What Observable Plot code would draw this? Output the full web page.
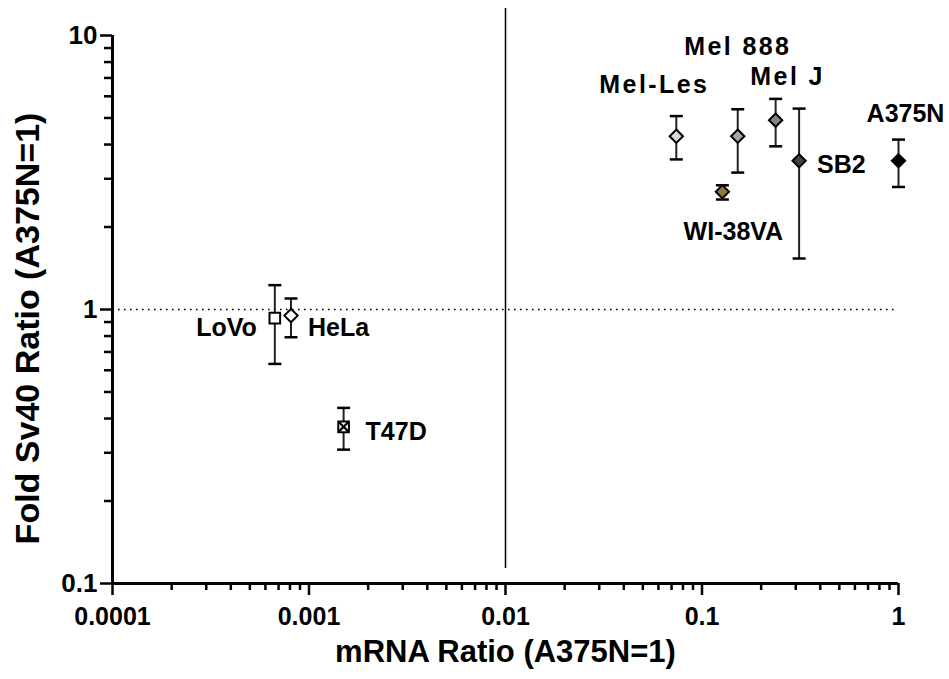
<!DOCTYPE html>
<html><head><meta charset="utf-8">
<script src="https://cdn.jsdelivr.net/npm/d3@7"></script>
<script src="https://cdn.jsdelivr.net/npm/@observablehq/plot@0.6"></script>
<style>body{margin:0;background:#fff} svg{display:block}</style>
</head><body><div id="chart"></div>
<script>
// ---- data ----
const cells = ["LoVo", "HeLa", "T47D", "Mel-Les", "Mel 888", "Mel J", "SB2", "A375N", "WI-38VA"];
const mrnaRatio = [0.00067, 0.00081, 0.0015, 0.074, 0.152, 0.237, 0.312, 1.0, 0.127];
const sv40Ratio = [0.93, 0.95, 0.373, 4.29, 4.29, 4.91, 3.49, 3.49, 2.69];
const sv40Low  = [0.633, 0.792, 0.308, 3.53, 3.16, 3.94, 1.535, 2.80, 2.52];
const sv40High = [1.227, 1.097, 0.4375, 5.08, 5.38, 5.87, 5.41, 4.17, 2.84];

const xTicks = [0.0001, 0.001, 0.01, 0.1, 1];
const xTickLabels = ["0.0001", "0.001", "0.01", "0.1", "1"];
const yTicks = [0.1, 1, 10];
const yTickLabels = ["0.1", "1", "10"];
const xTitle = "mRNA Ratio (A375N=1)";
const yTitle = "Fold Sv40 Ratio (A375N=1)";

// ---- styling (not data) ----
const look = {
  "LoVo":    {symbol: "square",   fill: "#ffffff", anchor: "end",    dx: -18, dy: 18},
  "HeLa":    {symbol: "diamond2", fill: "#ffffff", anchor: "start",  dx: 17,  dy: 20},
  "T47D":    {symbol: "square",   fill: "#ffffff", anchor: "start",  dx: 22,  dy: 13, cross: true},
  "Mel-Les": {symbol: "diamond2", fill: "#d9d9d9", anchor: "middle", dx: -22, dy: -43},
  "Mel 888": {symbol: "diamond2", fill: "#a6a6a6", anchor: "middle", dx: 0,   dy: -81},
  "Mel J":   {symbol: "diamond2", fill: "#858585", anchor: "middle", dx: 12,  dy: -35},
  "SB2":     {symbol: "diamond2", fill: "#404040", anchor: "start",  dx: 18,  dy: 12},
  "A375N":   {symbol: "diamond2", fill: "#000000", anchor: "middle", dx: 7,   dy: -39},
  "WI-38VA": {symbol: "diamond2", fill: "#8b7a3a", anchor: "middle", dx: 11,  dy: 48}
};

const rows = cells.map((c, i) => ({cell: c, x: mrnaRatio[i], y: sv40Ratio[i], lo: sv40Low[i], hi: sv40High[i]}));
const xMinor = d3.range(-4, 0).flatMap(e => d3.range(2, 10).map(m => +(m * 10 ** e).toPrecision(3)));
const yMinor = d3.range(-1, 1).flatMap(e => d3.range(2, 10).map(m => +(m * 10 ** e).toPrecision(3)));

const capSymbol = {draw(ctx, size) { const w = Math.sqrt(size / Math.PI); ctx.moveTo(-w, 0); ctx.lineTo(w, 0); }};

const font = "'Liberation Sans', Arial, Helvetica, sans-serif";
const xFmt = d => xTickLabels[xTicks.indexOf(d)];
const yFmt = d => yTickLabels[yTicks.indexOf(d)];

const chart = Plot.plot({
  width: 949, height: 679,
  marginLeft: 112, marginRight: 51, marginTop: 35, marginBottom: 96,
  style: {fontFamily: font, background: "#fff", color: "#000", overflow: "visible"},
  x: {type: "log", domain: [0.0001, 1]},
  y: {type: "log", domain: [0.1, 10]},
  marks: [
    // reference lines
    Plot.ruleY([1], {x1: xTicks[0], x2: xTicks[xTicks.length - 1], stroke: "#000", strokeWidth: 1.6, strokeDasharray: "1.6 4.4"}),
    Plot.ruleX([0.01], {stroke: "#000", strokeWidth: 1.5, insetTop: -27, insetBottom: 15}),
    // axes
    Plot.axisY(yMinor, {anchor: "left", tickSize: 8, tickFormat: () => "", strokeWidth: 2.5, label: null}),
    Plot.axisY(yTicks, {anchor: "left", tickSize: 12, tickPadding: 3, tickFormat: yFmt, fontSize: 26, fontWeight: "bold", strokeWidth: 2.5, label: null}),
    Plot.axisX(xMinor, {anchor: "bottom", tickSize: 7, tickFormat: () => "", strokeWidth: 2.5, label: null}),
    Plot.axisX(xTicks, {anchor: "bottom", tickSize: 12, tickPadding: 12, tickFormat: xFmt, fontSize: 25, fontWeight: "bold", strokeWidth: 2.5, label: null}),
    Plot.ruleX([0.0001], {stroke: "#000", strokeWidth: 3}),
    Plot.ruleY([0.1], {stroke: "#000", strokeWidth: 3}),
    // axis titles
    Plot.text([xTitle], {frameAnchor: "bottom", textAnchor: "middle", dy: 78, lineAnchor: "bottom", fontSize: 31, fontWeight: "bold", fill: "#000"}),
    Plot.text([yTitle], {frameAnchor: "left", textAnchor: "middle", dx: -74, dy: 19, rotate: -90, lineAnchor: "bottom", fontSize: 34, fontWeight: "bold", fill: "#000"}),
    // error bars
    Plot.ruleX(rows, {x: "x", y1: "lo", y2: "hi", stroke: "#222", strokeWidth: 2}),
    Plot.dot(rows, {x: "x", y: "lo", symbol: capSymbol, r: 6.5, stroke: "#000", fill: "none", strokeWidth: 2.5}),
    Plot.dot(rows, {x: "x", y: "hi", symbol: capSymbol, r: 6.5, stroke: "#000", fill: "none", strokeWidth: 2.5}),
    // markers
    Plot.dot(rows, {x: "x", y: "y", symbol: d => look[d.cell].symbol, fill: d => look[d.cell].fill, r: 6, stroke: "#000", strokeWidth: 2}),
    Plot.dot(rows.filter(d => look[d.cell].cross), {x: "x", y: "y", symbol: "times", r: 4.2, stroke: "#000", strokeWidth: 2.2}),
    // labels
    ...rows.map(d => Plot.text([d], {x: "x", y: "y", text: "cell", textAnchor: look[d.cell].anchor, lineAnchor: "bottom",
      dx: look[d.cell].dx, dy: look[d.cell].dy, fontSize: 25, fontWeight: "bold", fill: "#000"}))
  ]
});

d3.select(chart).selectAll("text").style("font-weight", "bold");
d3.select(chart).selectAll("text").filter(function() { return /^Mel/.test(this.textContent); })
  .style("letter-spacing", "2.4px");

document.getElementById("chart").appendChild(chart);
</script>
</body></html>
